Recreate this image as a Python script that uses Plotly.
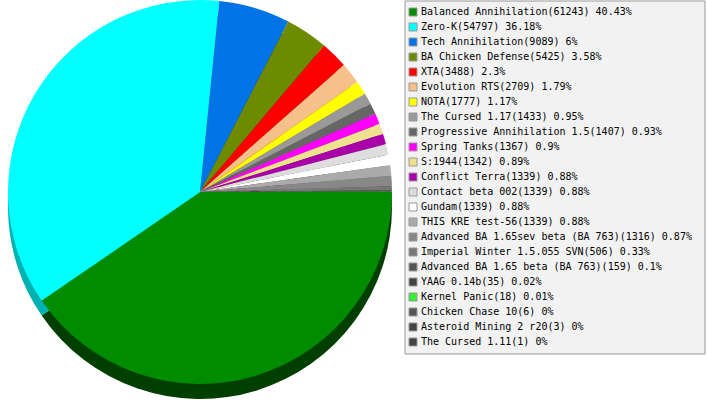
import plotly.graph_objects as go

# mods and their game counts, in slice order
mods = ["Balanced Annihilation", "Zero-K", "Tech Annihilation", "BA Chicken Defense",
        "XTA", "Evolution RTS", "NOTA", "The Cursed 1.17", "Progressive Annihilation 1.5",
        "Spring Tanks", "S:1944", "Conflict Terra", "Contact beta 002", "Gundam",
        "THIS KRE test-56", "Advanced BA 1.65sev beta (BA 763)", "Imperial Winter 1.5.055 SVN",
        "Advanced BA 1.65 beta (BA 763)", "YAAG 0.14b", "Kernel Panic", "Chicken Chase 10",
        "Asteroid Mining 2 r20", "The Cursed 1.11"]
games = [61243, 54797, 9089, 5425, 3488, 2709, 1777, 1433, 1407, 1367, 1342, 1339, 1339,
         1339, 1339, 1316, 506, 159, 35, 18, 6, 3, 1]
colors = ["#008c00", "#00ffff", "#0073e6", "#6e8b00", "#ff0000", "#f5c08a", "#ffff00",
          "#999999", "#666666", "#ff00ff", "#eee28f", "#aa00aa", "#dddddd", "#ffffff",
          "#aaaaaa", "#888888", "#777777", "#555555", "#444444", "#33ee33", "#555555",
          "#444444", "#444444"]

W, H = 707, 400
total = sum(games)


def darker(c, f):
    r, g, b = int(c[1:3], 16), int(c[3:5], 16), int(c[5:7], 16)
    return "#%02x%02x%02x" % (int(r * f), int(g * f), int(b * f))


side_colors = [darker(c, 0.45) for c in colors]
side_colors[1] = darker(colors[1], 0.7)

labels = []
for m, g in zip(mods, games):
    pct = round(g / total * 100, 2)
    labels.append(f"{m}({g}) {pct:g}%")

fig = go.Figure()
# the "3d" side of the pie: same slices, darker, shifted down
for dom_y, cols in [([1 / H, 385 / H], side_colors), ([16 / H, 1.0], colors)]:
    fig.add_trace(go.Pie(
        labels=mods, values=games, sort=False, direction="clockwise", rotation=90,
        marker=dict(colors=cols, line=dict(width=0)), textinfo="none",
        domain=dict(x=[8 / W, 392 / W], y=dom_y), showlegend=False,
    ))

idx = list(range(len(mods)))
# hand-made legend
fig.add_trace(go.Scatter(
    x=[8] * len(idx), y=idx, mode="markers", xaxis="x2", yaxis="y2",
    marker=dict(symbol="square", size=8, color=colors, line=dict(color="#999999", width=1)),
    hoverinfo="skip", showlegend=False,
))
fig.add_trace(go.Scatter(
    x=[16] * len(idx), y=idx, mode="text", text=labels, textposition="middle right",
    textfont=dict(family="DejaVu Sans Mono", size=10, color="#000000"),
    xaxis="x2", yaxis="y2", hoverinfo="skip", showlegend=False,
))

fig.add_shape(type="rect", xref="paper", yref="paper",
              x0=405 / W, x1=705 / W, y0=1 - 354 / H, y1=1 - 1 / H,
              fillcolor="#f2f2f2", line=dict(color="#999999", width=1), layer="below")

fig.update_layout(
    width=W, height=H, margin=dict(l=0, r=0, t=0, b=0),
    paper_bgcolor="white", plot_bgcolor="rgba(0,0,0,0)",
    xaxis=dict(visible=False),
    yaxis=dict(visible=False),
    xaxis2=dict(domain=[405 / W, 705 / W], range=[0, 300], visible=False, anchor="y2"),
    yaxis2=dict(domain=[0, 1], range=[(H - 12) / 15, -12 / 15], visible=False, anchor="x2"),
)

# page margin would push the chart 8px off
fig.write_html("out.html", config={"displayModeBar": False},
               post_script="document.body.style.margin='0';")
